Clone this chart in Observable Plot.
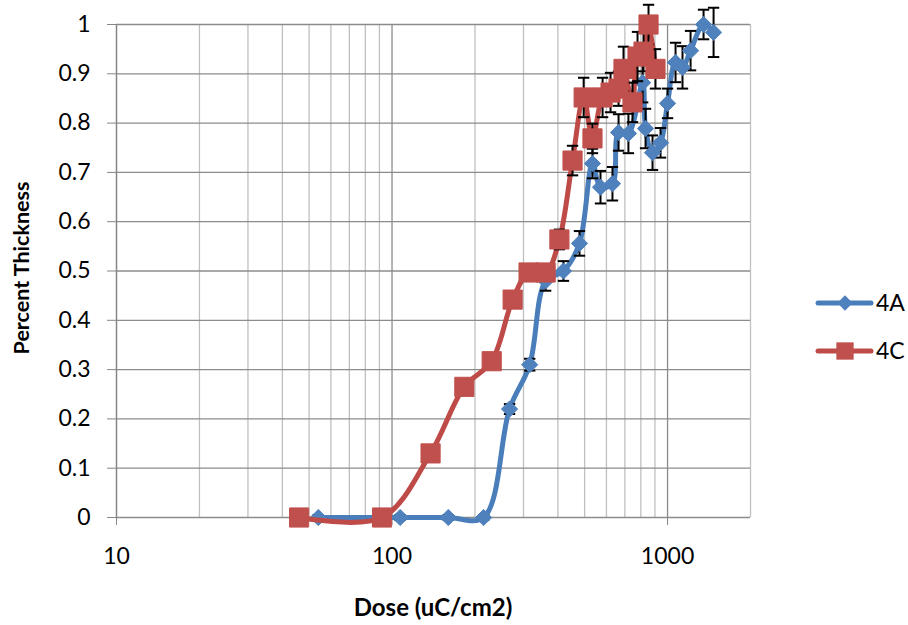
<!DOCTYPE html>
<html><head><meta charset="utf-8">
<script src="https://cdn.jsdelivr.net/npm/d3@7"></script>
<script src="https://cdn.jsdelivr.net/npm/@observablehq/plot@0.6"></script>
<style>body{margin:0;background:#fff} #chart{position:relative;width:908px;height:625px}</style>
</head><body><div id="chart"></div>
<script>
// Series 4A
const dose4A  = [54, 107, 160, 215, 267, 316, 361, 419, 479, 534, 571, 631, 664, 721, 812, 832, 882, 943, 1000, 1069, 1133, 1212, 1351, 1469];
const thick4A = [0, 0, 0, 0, 0.22, 0.31, 0.48, 0.50, 0.556, 0.718, 0.67, 0.677, 0.781, 0.779, 0.882, 0.789, 0.74, 0.76, 0.84, 0.923, 0.913, 0.947, 1.0, 0.984];
const err4A   = [0.005, 0.005, 0.005, 0.005, 0.01, 0.012, 0.02, 0.02, 0.025, 0.03, 0.033, 0.034, 0.037, 0.04, 0.04, 0.04, 0.035, 0.03, 0.03, 0.04, 0.043, 0.04, 0.03, 0.05];
// Series 4C
const dose4C  = [46, 92, 138, 183, 230, 274, 313, 361, 405, 452, 496, 534, 581, 621, 664, 692, 746, 778, 818, 853, 904];
const thick4C = [0, 0, 0.13, 0.265, 0.317, 0.442, 0.497, 0.497, 0.564, 0.724, 0.852, 0.769, 0.852, 0.862, 0.87, 0.91, 0.842, 0.935, 0.945, 1.0, 0.91];
const err4C   = [0.003, 0.003, 0, 0, 0.005, 0.015, 0.015, 0.015, 0.02, 0.03, 0.04, 0.03, 0.04, 0.04, 0.035, 0.045, 0.04, 0.05, 0.04, 0.04, 0.04];

const seriesNames = ["4A", "4C"];
const lineColors = ["#4A7EBB", "#BE4B48"];
const markColors = ["#4F81BD", "#C0504D"];

const xLabelTicks = [10, 100, 1000];
const xMinorTicks = [20, 30, 40, 50, 60, 70, 80, 90, 200, 300, 400, 500, 600, 700, 800, 900, 2000];
const yTicks = [0, 0.1, 0.2, 0.3, 0.4, 0.5, 0.6, 0.7, 0.8, 0.9, 1];

const rows = (d, t, e) => d.map((v, i) => ({dose: v, t: t[i], e: e[i]}));
const s4A = rows(dose4A, thick4A, err4A);
const s4C = rows(dose4C, thick4C, err4C);

const cap = {draw(ctx, size) { const w = Math.sqrt(size); ctx.moveTo(-w, 0); ctx.lineTo(w, 0); }};

function seriesMarks(data, i, symbol, r) {
  const withErr = data.filter(d => d.e > 0);
  return [
    Plot.line(data, {x: "dose", y: "t", stroke: lineColors[i], strokeWidth: 5, curve: "catmull-rom"}),
    Plot.ruleX(withErr, {x: "dose", y1: d => d.t - d.e, y2: d => d.t + d.e, stroke: "black", strokeWidth: 2}),
    Plot.dot(withErr, {x: "dose", y: d => d.t + d.e, symbol: cap, r: 3.2, stroke: "black", strokeWidth: 2, fill: "none"}),
    Plot.dot(withErr, {x: "dose", y: d => d.t - d.e, symbol: cap, r: 3.2, stroke: "black", strokeWidth: 2, fill: "none"}),
    Plot.dot(data, {x: "dose", y: "t", symbol, r, fill: markColors[i], stroke: markColors[i], strokeWidth: 1})
  ];
}

const chart = Plot.plot({
  width: 908, height: 625,
  marginLeft: 116, marginRight: 158, marginTop: 24, marginBottom: 108,
  style: {fontFamily: "Lato, 'Open Sans', sans-serif", fontSize: "23px", color: "black", background: "white"},
  x: {type: "log", domain: [10, 2000]},
  y: {domain: [0, 1]},
  marks: [
    Plot.ruleX(xMinorTicks, {stroke: "#C0C0C0", strokeWidth: 1.3}),
    Plot.ruleX([100, 1000], {stroke: "#8C8C8C", strokeWidth: 1.3}),
    Plot.ruleY(yTicks, {stroke: "#8C8C8C", strokeWidth: 1.3}),
    Plot.ruleX([10], {y1: 0, y2: 1, stroke: "#868686", strokeWidth: 1.5}),
    Plot.axisY(yTicks, {tickSize: 9, tickPadding: 17, stroke: "#868686", fill: "black", tickFormat: d => String(+d.toFixed(1)), label: null}),
    Plot.axisX(xLabelTicks, {tickSize: 8, tickPadding: 22, stroke: "#868686", fill: "black", tickFormat: d => String(d), label: null}),
    ...seriesMarks(s4A, 0, "diamond2", 7.3),
    ...seriesMarks(s4C, 1, "square", 10.8)
  ]
});

document.getElementById("chart").appendChild(chart);

const svg = d3.select(chart);
svg.append("text").text("Percent Thickness")
  .attr("transform", "translate(29,268) rotate(-90)")
  .attr("text-anchor", "middle")
  .style("font-family", "Lato, sans-serif").style("font-weight", "bold").style("font-size", "21.5px");
svg.append("text").text("Dose (uC/cm2)")
  .attr("x", 433).attr("y", 616)
  .attr("text-anchor", "middle")
  .style("font-family", "Lato, sans-serif").style("font-weight", "bold").style("font-size", "24px");

const legend = svg.append("g");
const legendSymbols = [d3.symbol(d3.symbolDiamond2, 150), d3.symbol(d3.symbolSquare, 300)];
seriesNames.forEach((name, i) => {
  const y = 303 + i * 48;
  const g = legend.append("g");
  g.append("line").attr("x1", 818).attr("x2", 871).attr("y1", y).attr("y2", y)
    .attr("stroke", lineColors[i]).attr("stroke-width", 5).attr("stroke-linecap", "round");
  g.append("path").attr("d", legendSymbols[i]()).attr("transform", `translate(845,${y})`).attr("fill", markColors[i]);
  g.append("text").text(name).attr("x", 876).attr("y", y + 8).attr("text-anchor", "start")
    .style("font-family", "Lato, sans-serif").style("font-size", "23px");
});
</script></body></html>
